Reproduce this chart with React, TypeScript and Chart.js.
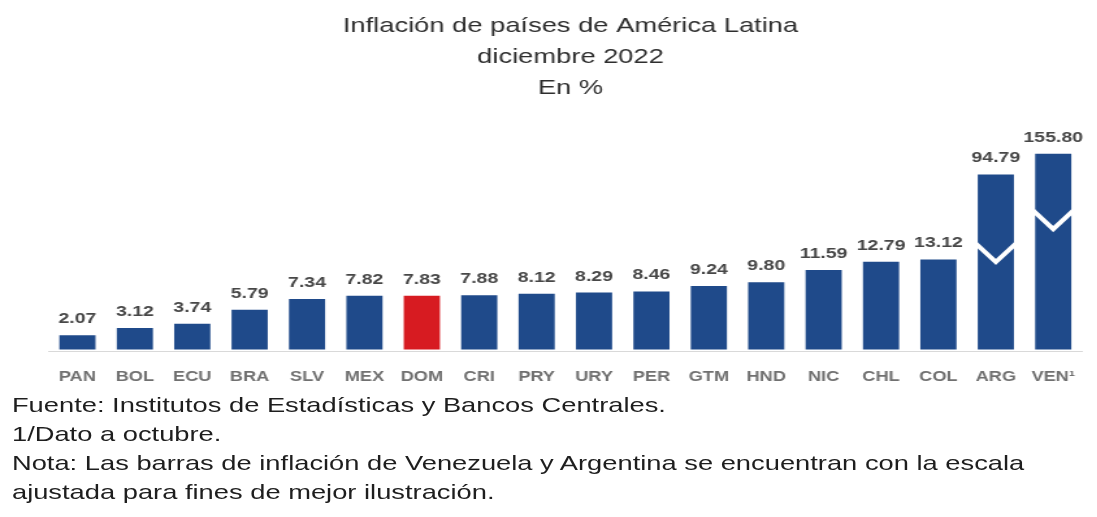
import React, { useEffect, useRef } from 'react';
import { Chart, registerables } from 'chart.js';

Chart.register(...registerables);

// ---------- data ----------
const titleLines = ['Inflación de países de América Latina', 'diciembre 2022', 'En %'];
const categories = ['PAN', 'BOL', 'ECU', 'BRA', 'SLV', 'MEX', 'DOM', 'CRI', 'PRY', 'URY', 'PER', 'GTM', 'HND', 'NIC', 'CHL', 'COL', 'ARG', 'VEN¹'];
const inflation = [2.07, 3.12, 3.74, 5.79, 7.34, 7.82, 7.83, 7.88, 8.12, 8.29, 8.46, 9.24, 9.8, 11.59, 12.79, 13.12, 94.79, 155.8];
// bars drawn with an adjusted (broken) scale
const adjustedCategories = ['ARG', 'VEN¹'];
const adjustedHeights = [25.5, 28.5];
const breakValues = [14.2, 19.0];
const highlightCategory = 'DOM';
const notes = [
  'Fuente: Institutos de Estadísticas y Bancos Centrales.',
  '1/Dato a octubre.',
  'Nota: Las barras de inflación de Venezuela y Argentina se encuentran con la escala',
  'ajustada para fines de mejor ilustración.',
];

const BLUE = '#1f4a8a';
const RED = '#d71b21';
const STRETCH = 1.3;
const W = 844;
const H = 517;

const barHeights = inflation.map((v, i) => {
  const k = adjustedCategories.indexOf(categories[i]);
  return k >= 0 ? adjustedHeights[k] : v;
});

const breakPlugin = {
  id: 'breakMarks',
  afterDatasetsDraw(chart: any) {
    const ctx = chart.ctx;
    const meta = chart.getDatasetMeta(0);
    const yScale = chart.scales.y;
    ctx.save();
    ctx.strokeStyle = '#ffffff';
    ctx.lineWidth = 4;
    ctx.lineJoin = 'miter';
    adjustedCategories.forEach((cat, k) => {
      const i = categories.indexOf(cat);
      const bar = meta.data[i];
      if (!bar) return;
      const { x, width } = bar.getProps(['x', 'width'], true);
      const yc = yScale.getPixelForValue(breakValues[k]);
      const l = x - width / 2 - 2;
      const r = x + width / 2 + 2;
      ctx.beginPath();
      ctx.moveTo(l, yc - 9);
      ctx.lineTo(x, yc + 10);
      ctx.lineTo(r, yc - 9);
      ctx.stroke();
    });
    ctx.restore();
  },
};

const valueLabelPlugin = {
  id: 'valueLabels',
  afterDatasetsDraw(chart: any) {
    const ctx = chart.ctx;
    const meta = chart.getDatasetMeta(0);
    ctx.save();
    ctx.font = 'bold 15px "Liberation Sans", Arial, sans-serif';
    ctx.fillStyle = '#474747';
    ctx.textAlign = 'center';
    ctx.textBaseline = 'alphabetic';
    meta.data.forEach((bar: any, i: number) => {
      const { x, y } = bar.getProps(['x', 'y'], true);
      ctx.fillText(inflation[i].toFixed(2), x, y - 12);
    });
    ctx.restore();
  },
};

export default function App() {
  const canvasRef = useRef<HTMLCanvasElement | null>(null);

  useEffect(() => {
    const canvas = canvasRef.current;
    if (!canvas) return;
    const chart = new Chart(canvas, {
      type: 'bar',
      data: {
        labels: categories,
        datasets: [
          {
            data: barHeights,
            backgroundColor: categories.map((c) => (c === highlightCategory ? RED : BLUE)),
            borderWidth: 0,
            barPercentage: 0.63,
            categoryPercentage: 1,
          },
        ],
      },
      options: {
        responsive: false,
        animation: false,
        devicePixelRatio: 1,
        layout: { padding: { left: 37.5, right: 3.8, top: 0, bottom: 114.7 } },
        plugins: {
          legend: { display: false },
          tooltip: { enabled: false },
          title: {
            display: true,
            text: titleLines,
            color: '#2e2e2e',
            font: { family: '"Liberation Sans", Arial, sans-serif', size: 21, weight: 'normal', lineHeight: 1.476 },
            padding: { top: 11, bottom: 32.7 },
          },
        },
        scales: {
          x: {
            grid: { display: false, drawTicks: false },
            border: { display: true, color: '#d9d9d9', width: 1 },
            ticks: {
              color: '#707070',
              font: { family: '"Liberation Sans", Arial, sans-serif', size: 14, weight: 'bold' },
              padding: 17,
              maxRotation: 0,
              autoSkip: false,
            },
          },
          y: { display: false, min: -0.3, max: 31 },
        },
      },
      plugins: [breakPlugin, valueLabelPlugin],
    });
    return () => chart.destroy();
  }, []);

  return (
    <div
      style={{
        position: 'fixed',
        left: 0,
        top: 0,
        width: W,
        height: H,
        transform: `scaleX(${STRETCH})`,
        transformOrigin: '0 0',
        background: '#ffffff',
      }}
    >
      <canvas ref={canvasRef} width={W} height={H} style={{ width: W, height: H, display: 'block' }} />
      <div
        style={{
          position: 'absolute',
          left: 9.2,
          top: 389.5,
          fontFamily: '"Liberation Sans", Arial, sans-serif',
          fontSize: 21,
          lineHeight: '29px',
          color: '#1e1e1e',
          whiteSpace: 'nowrap',
        }}
      >
        {notes.map((n) => (
          <div key={n}>{n}</div>
        ))}
      </div>
    </div>
  );
}
